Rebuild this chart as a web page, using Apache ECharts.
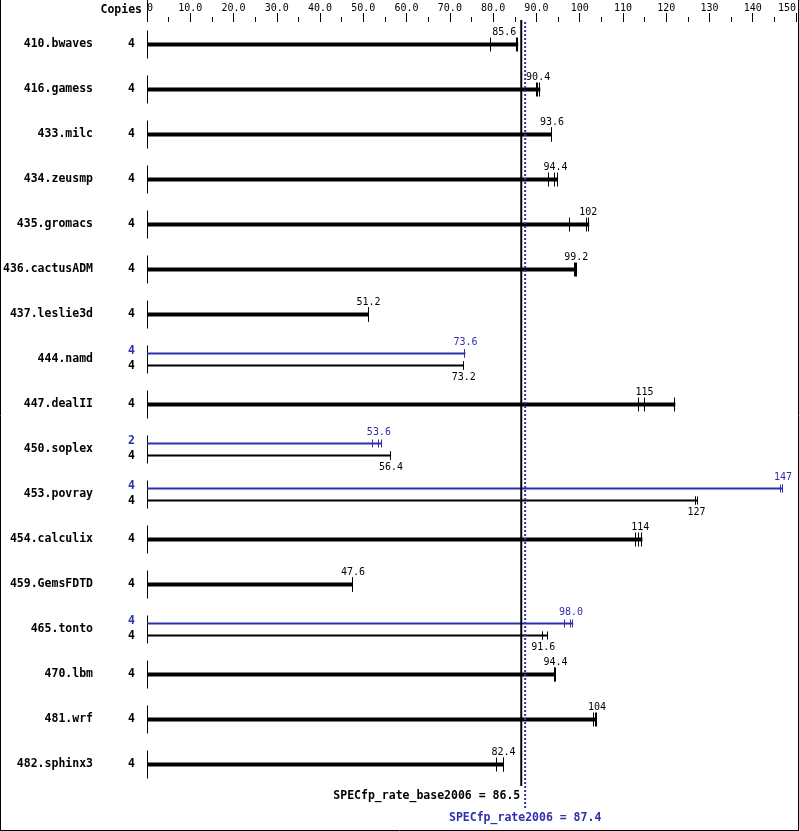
<!DOCTYPE html>
<html>
<head>
<meta charset="utf-8">
<script src="https://cdn.jsdelivr.net/npm/echarts@6/dist/echarts.min.js"></script>
<style>
html,body{margin:0;padding:0;background:#fff;}
#c{width:799px;height:831px;}
</style>
</head>
<body>
<div id="c"></div>
<script>
// ---- data ----
const benchmarks = ['410.bwaves','416.gamess','433.milc','434.zeusmp','435.gromacs','436.cactusADM','437.leslie3d','444.namd','447.dealII','450.soplex','453.povray','454.calculix','459.GemsFDTD','465.tonto','470.lbm','481.wrf','482.sphinx3'];
const baseCopies = [4,4,4,4,4,4,4,4,4,4,4,4,4,4,4,4,4];
const baseValue = [85.6,90.4,93.6,94.4,102,99.2,51.2,73.2,115,56.4,127,114,47.6,91.6,94.4,104,82.4];
const baseRuns = [
  [79.4,85.6,85.8],[90.1,90.4,90.9],[93.6,93.6,93.6],[92.9,94.4,95.0],
  [97.8,101.6,102.2],[98.9,99.2,99.4],[51.2,51.2,51.3],[73.2,73.2,73.2],
  [113.6,115,122.1],[56.3,56.4,56.4],[126.8,127,127.3],[113.1,113.7,114.5],
  [47.5,47.6,47.6],[91.6,91.6,92.6],[94.4,94.4,94.5],[103.4,103.8,104.0],
  [80.8,82.4,82.4]
];
const peakCopies = [null,null,null,null,null,null,null,4,null,2,4,null,null,4,null,null,null];
const peakValue = [null,null,null,null,null,null,null,73.6,null,53.6,147,null,null,98.0,null,null,null];
const peakRuns = [null,null,null,null,null,null,null,[73.6,73.6,73.6],null,[52.3,53.6,54.2],[146.6,147,147.0],null,null,[96.6,98.0,98.5],null,null,null];
const xTicks = [0,10,20,30,40,50,60,70,80,90,100,110,120,130,140,150];
const baseMean = 86.5;
const peakMean = 87.4;
const baseMeanLabel = 'SPECfp_rate_base2006 = 86.5';
const peakMeanLabel = 'SPECfp_rate2006 = 87.4';

// ---- styles ----
const BLUE = '#2e2eb0';
const MONO = '"DejaVu Sans Mono", "Liberation Mono", monospace';
const CHAR_W = 6.02;

const chart = echarts.init(document.getElementById('c'), null, {renderer:'canvas'});

function rowItem(params, api) {
  const i = params.dataIndex;
  const p0 = api.coord([0, i]);
  const x0 = p0[0], c = p0[1];
  const meanX = api.coord([baseMean, i])[0];
  const kids = [];
  kids.push({type:'line', shape:{x1:x0+0.5, y1:c-14, x2:x0+0.5, y2:c+14}, style:{stroke:'#000', lineWidth:1}});
  function drawBar(runs, value, yc, h, color, tickHalf, labelY, copies, copiesY) {
    const xe = api.coord([Math.max.apply(null, runs), i])[0];
    kids.push({type:'rect', shape:{x:x0, y:yc - h/2, width:xe - x0, height:h}, style:{fill:color}});
    runs.forEach(r => {
      const xr = Math.round(api.coord([r, i])[0]) - 0.5;
      kids.push({type:'line', shape:{x1:xr, y1:yc-tickHalf, x2:xr, y2:yc+tickHalf}, style:{stroke:color, lineWidth:1}});
    });
    const txt = (value < 100 ? value.toFixed(1) : String(Math.round(value)));
    let xv = api.coord([value, i])[0];
    let align = 'center';
    const halfW = txt.length * CHAR_W / 2;
    if (xv - halfW < meanX + 3 && xv + halfW > meanX - 3) {
      if (xv < meanX) { xv = meanX - 5; align = 'right'; }
      else { xv = meanX + 6; align = 'left'; }
    }
    kids.push({type:'text', style:{text:txt, x:xv, y:labelY, align:align, verticalAlign:'middle', fill:color, font:'10px ' + MONO}});
    kids.push({type:'text', style:{text:String(copies), x:x0-12, y:copiesY, align:'right', verticalAlign:'middle', fill:color, font:'bold 11.5px ' + MONO}});
  }
  if (peakValue[i] == null) {
    drawBar(baseRuns[i], baseValue[i], c, 4, '#000', 7, c-12, baseCopies[i], c);
  } else {
    drawBar(peakRuns[i], peakValue[i], c-6, 2, BLUE, 4, c-17, peakCopies[i], c-8);
    drawBar(baseRuns[i], baseValue[i], c+6, 2, '#000', 4, c+18, baseCopies[i], c+7);
  }
  return {type:'group', children:kids};
}

function meanItem(isPeak) {
  return function(params, api) {
    const v = api.value(0);
    const x = api.coord([v, 0])[0];
    if (!isPeak) {
      return {type:'group', children:[
        {type:'line', shape:{x1:x, y1:20, x2:x, y2:786}, style:{stroke:'#000', lineWidth:2}},
        {type:'text', style:{text:baseMeanLabel, x:x-1, y:796, align:'right', verticalAlign:'middle', fill:'#000', font:'bold 11.5px ' + MONO}}
      ]};
    }
    return {type:'group', children:[
      {type:'line', shape:{x1:x, y1:22, x2:x, y2:808}, style:{stroke:BLUE, lineWidth:2, lineDash:[2,2]}},
      {type:'text', style:{text:peakMeanLabel, x:x, y:818, align:'center', verticalAlign:'middle', fill:BLUE, font:'bold 11.5px ' + MONO}}
    ]};
  };
}

const option = {
  animation:false,
  backgroundColor:'#fff',
  grid:{left:147, right:2, top:22, height:765, containLabel:false},
  xAxis:{
    type:'value', position:'top', min:xTicks[0], max:xTicks[xTicks.length-1], interval:10,
    axisLine:{show:false},
    axisTick:{show:true, length:9, lineStyle:{color:'#000', width:1}},
    minorTick:{show:true, splitNumber:2, length:5, lineStyle:{color:'#000', width:1}},
    splitLine:{show:false},
    axisLabel:{
      margin:9, color:'#000', fontSize:10, fontFamily:MONO,
      alignMinLabel:'left', alignMaxLabel:'right',
      formatter: v => v === 0 ? '0' : (v < 100 ? v.toFixed(1) : String(v))
    }
  },
  yAxis:{
    type:'category', data:benchmarks, inverse:true,
    axisLine:{show:false}, axisTick:{show:false}, splitLine:{show:false},
    axisLabel:{margin:54, color:'#000', fontSize:11.5, fontWeight:'bold', fontFamily:MONO}
  },
  series:[
    {type:'custom', renderItem:rowItem, data:benchmarks.map((b,i)=>[0,i]), encode:{x:0,y:1}, clip:false, silent:true},
    {type:'custom', renderItem:meanItem(false), data:[[baseMean]], encode:{x:0}, clip:false, silent:true, z:3},
    {type:'custom', renderItem:meanItem(true), data:[[peakMean]], encode:{x:0}, clip:false, silent:true, z:4}
  ]
};
chart.setOption(option);

const x0px = Math.round(chart.convertToPixel({xAxisIndex:0}, 0)) + 0.5;
chart.setOption({
  graphic:[
    {type:'text', style:{text:'Copies', x:142, y:10, align:'right', verticalAlign:'middle', fill:'#000', font:'bold 11.5px ' + MONO}},
    {type:'line', shape:{x1:x0px, y1:0, x2:x0px, y2:22}, style:{stroke:'#000', lineWidth:1}},
    {type:'line', shape:{x1:0.5, y1:0, x2:0.5, y2:831}, style:{stroke:'#000', lineWidth:1}},
    {type:'line', shape:{x1:798.5, y1:0, x2:798.5, y2:831}, style:{stroke:'#000', lineWidth:1}},
    {type:'line', shape:{x1:0, y1:830.5, x2:799, y2:830.5}, style:{stroke:'#000', lineWidth:1}}
  ]
});
</script>
</body>
</html>
